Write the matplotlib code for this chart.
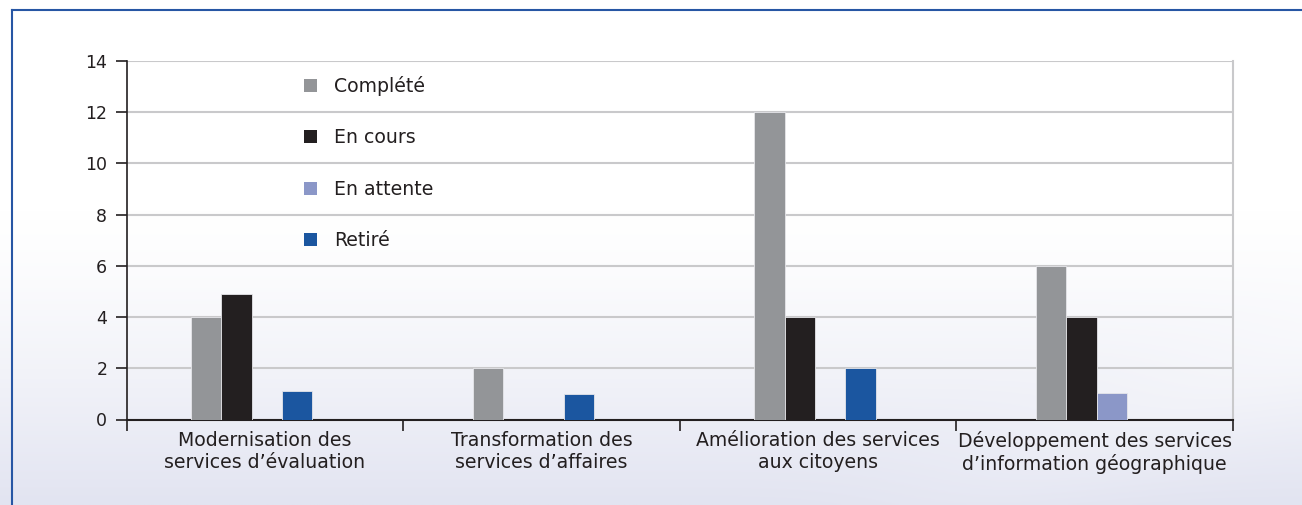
import numpy as np
import matplotlib
matplotlib.use("Agg")
import matplotlib.pyplot as plt
from matplotlib.lines import Line2D
from matplotlib.patches import Patch
from matplotlib.colors import to_rgb

# --- data -------------------------------------------------------------
categories = [
    "Modernisation des\nservices d\u2019\u00e9valuation",
    "Transformation des\nservices d\u2019affaires",
    "Am\u00e9lioration des services\naux citoyens",
    "D\u00e9veloppement des services\nd\u2019information g\u00e9ographique",
]
series_names = ["Compl\u00e9t\u00e9", "En cours", "En attente", "Retir\u00e9"]
completes = [4, 2, 12, 6]
en_cours = [4.9, 0, 4, 4]
en_attente = [0, 0, 0, 1.05]
retires = [1.1, 1, 2, 0]
y_ticks = [0, 2, 4, 6, 8, 10, 12, 14]

colors = ["#939598", "#231f20", "#8b97c8", "#1b56a0"]
series_values = [completes, en_cours, en_attente, retires]

plt.rcParams["font.family"] = ["DejaVu Sans"]
text_c = "#231f20"
label_fs = 13.6
tick_fs = 12.5

W, H = 13.02, 5.05
fig = plt.figure(figsize=(W, H), dpi=100)

# background: white fading to a pale lavender towards the bottom
bg = fig.add_axes([0, 0, 1, 1], zorder=-10)
bg.set_axis_off()
ny, nx = 200, 400
yy, xx = np.mgrid[0:1:ny * 1j, 0:1:nx * 1j]
t = np.clip((yy - 0.42) / 0.58, 0, 1) ** 1.3
top_c = np.array(to_rgb("#ffffff"))
bot_c = np.array(to_rgb("#e2e4f1"))
img = top_c[None, None, :] * (1 - t[..., None]) + bot_c[None, None, :] * t[..., None]
# soft lighter diagonal sweep in the lower right
d = (xx - 0.72) * 1.0 - (1 - yy) * 0.9
band = np.exp(-(d / 0.12) ** 2) * np.clip((xx - 0.55) / 0.45, 0, 1) * 0.25
img = img + (1 - img) * band[..., None]
bg.imshow(img, extent=[0, 1, 0, 1], origin="upper", aspect="auto")
bg.set_xlim(0, 1)
bg.set_ylim(0, 1)

# blue frame lines (top and left)
frame_c = "#2756a4"
fig.add_artist(Line2D([11.5 / 1302, 1], [1 - 9.5 / 505, 1 - 9.5 / 505],
                      transform=fig.transFigure, color=frame_c, lw=1.5))
fig.add_artist(Line2D([11.5 / 1302, 11.5 / 1302], [0, 1 - 9.5 / 505],
                      transform=fig.transFigure, color=frame_c, lw=1.5))

# plot area
left_px, right_px = 126.7, 1233.0
bottom_px, top_px = 419.5, 61.0
ax = fig.add_axes([left_px / 1302, 1 - bottom_px / 505,
                   (right_px - left_px) / 1302, (bottom_px - top_px) / 505])
ax.set_facecolor("none")

n_series = len(series_values)
bar_px = 30.3
step_px = 281.7
bw = bar_px / step_px
x = np.arange(len(categories))
offsets = (np.arange(n_series) - (n_series - 1) / 2) * bw
for vals, off, col, name in zip(series_values, offsets, colors, series_names):
    ax.bar(x + off, vals, width=bw, color=col, edgecolor="#e6e6ea",
           linewidth=0.6, label=name, zorder=3)

xmin = -n_series / 2 * bw - (191 - left_px) / step_px
xmax = xmin + (right_px - left_px) / step_px
ax.set_xlim(xmin, xmax)
ax.set_ylim(0, 14)

bounds = np.linspace(xmin, xmax, len(categories) + 1)
mids = (bounds[:-1] + bounds[1:]) / 2
ax.set_xticks(mids)
ax.set_xticklabels(categories, fontsize=label_fs, color=text_c, linespacing=1.2)
ax.set_xticks(bounds, minor=True)
ax.tick_params(axis="x", which="major", length=0, pad=8)
ax.tick_params(axis="x", which="minor", length=8, width=1.2, color=text_c,
               direction="out")

ax.set_yticks(y_ticks)
ax.set_yticklabels([str(v) for v in y_ticks], fontsize=tick_fs, color=text_c)
ax.tick_params(axis="y", length=8, width=1.2, color=text_c, pad=6)

ax.yaxis.grid(True, color="#c9c9cb", lw=1.5, zorder=0)
ax.set_axisbelow(True)
ax.spines["top"].set_visible(False)
ax.spines["right"].set_color("#c9c9cb")
ax.spines["right"].set_linewidth(1.5)
ax.spines["left"].set_color(text_c)
ax.spines["left"].set_linewidth(1.2)
ax.spines["bottom"].set_color(text_c)
ax.spines["bottom"].set_linewidth(1.5)

handles = [Patch(facecolor=c, edgecolor="none") for c in colors]
leg = fig.legend(handles, series_names, loc="upper left",
                 bbox_to_anchor=(304 / 1302, 1 - 76 / 505),
                 frameon=False, fontsize=label_fs, handlelength=0.7,
                 handleheight=0.7, handletextpad=0.9, labelspacing=1.72,
                 borderpad=0, borderaxespad=0)
for txt in leg.get_texts():
    txt.set_color(text_c)

fig.savefig("out.png", dpi=100)
